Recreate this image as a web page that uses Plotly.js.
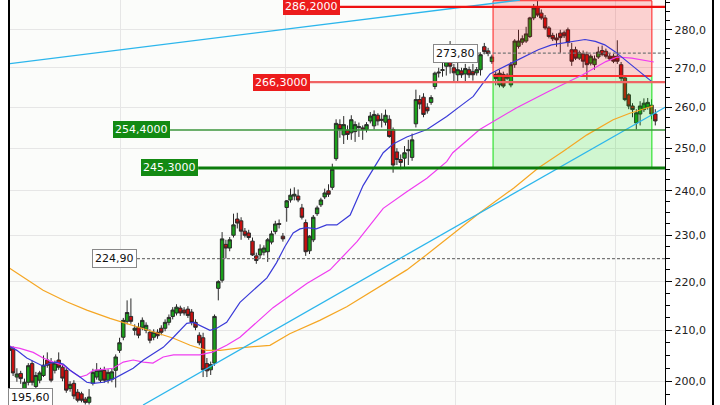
<!DOCTYPE html>
<html><head><meta charset="utf-8">
<script src="https://cdn.plot.ly/plotly-3.0.1.min.js"></script>
<style>html,body{margin:0;padding:0;background:#fff;}#chart{width:720px;height:405px;}</style>
</head><body><div id="chart"></div>
<script>
// ---- candle data (daily) ----
const opens = [206.8,206.3,200.8,201.5,198.0,199.8,203.4,199.0,200.2,201.1,204.1,203.7,202.1,204.1,202.7,202.1,198.6,199.6,197.9,197.6,196.6,196.0,199.6,200.8,200.2,202.1,200.2,200.4,202.1,206.0,208.6,211.8,212.8,210.0,210.6,210.6,210.0,209.6,208.6,209.6,210.4,210.4,211.6,212.8,213.5,214.5,214.1,214.3,213.7,211.6,209.0,208.5,203.4,202.2,203.5,218.6,220.3,228.0,227.2,230.0,233.6,233.2,230.9,230.5,228.7,225.5,225.7,226.3,226.4,228.5,230.8,232.6,229.8,236.2,237.9,238.8,238.8,236.1,232.8,226.6,229.0,234.8,236.8,238.6,240.0,240.8,247.5,255.7,253.2,254.3,253.7,254.0,255.0,254.9,254.5,256.6,255.4,258.0,257.0,256.3,257.0,254.5,249.1,247.3,247.6,249.4,247.8,255.9,261.9,262.5,260.0,261.2,265.2,268.9,269.3,270.4,271.8,270.0,268.2,269.2,268.4,269.5,269.0,268.7,269.5,275.5,274.4,271.6,268.3,265.6,268.3,268.1,265.6,270.8,275.6,276.7,277.0,278.2,283.2,286.3,284.5,283.2,280.5,278.5,277.8,279.1,279.2,280.0,274.7,274.7,272.5,273.6,273.4,271.2,270.8,272.8,274.5,274.3,273.0,273.0,273.0,270.8,267.4,263.1,260.3,256.1,258.3,259.4,260.0,260.5,258.3];
const highs = [207.8,206.8,202.5,202.0,200.5,203.5,204.0,201.8,202.0,205.0,205.6,204.5,204.0,205.6,203.2,202.6,200.0,200.2,198.5,198.0,197.0,198.5,202.4,203.5,202.6,202.8,202.3,202.4,205.2,208.5,212.5,216.1,216.5,211.2,211.5,212.6,211.6,210.2,210.2,210.2,211.0,212.2,213.2,214.7,215.3,215.0,214.7,214.9,214.3,212.2,209.6,209.5,204.5,203.8,213.2,220.3,230.7,229.0,229.6,234.8,235.0,234.0,231.6,231.2,229.5,226.2,228.0,227.8,229.4,231.0,233.2,233.5,230.5,237.9,240.5,240.8,240.3,237.0,233.5,230.0,234.5,236.6,238.4,240.5,241.5,246.3,257.0,257.0,257.8,255.5,258.0,256.5,256.2,255.5,256.3,258.8,259.2,258.5,258.5,259.4,258.0,255.0,250.0,248.5,250.5,252.0,253.5,264.4,263.0,263.5,261.0,263.0,269.0,270.0,271.6,273.0,277.0,271.0,271.5,270.0,271.0,270.3,271.0,270.2,274.0,276.5,275.2,273.4,269.0,269.5,269.0,268.6,271.5,277.5,280.0,278.5,280.8,283.5,287.0,287.8,285.5,284.0,281.0,279.2,279.0,280.0,279.8,280.6,276.5,275.5,274.5,274.5,274.2,273.5,273.2,275.5,275.8,275.0,273.8,273.6,277.2,271.5,267.8,263.5,261.0,259.5,261.5,262.2,262.3,262.0,259.5];
const lows = [205.5,201.0,199.9,199.5,197.3,199.2,199.2,198.5,199.6,200.8,202.6,199.8,201.5,202.2,200.0,197.8,198.0,196.6,196.0,196.0,195.6,195.6,199.2,200.3,199.8,199.7,199.6,199.8,198.8,205.5,208.0,211.2,211.3,209.0,208.4,210.0,209.4,207.4,208.0,208.3,209.0,209.8,211.0,212.2,213.0,212.9,213.0,212.5,211.0,210.0,207.0,200.8,200.8,201.2,203.0,216.1,219.8,224.9,226.5,229.5,231.5,229.0,229.5,229.0,225.5,223.8,224.9,225.6,224.2,228.0,230.2,231.5,228.6,233.0,237.3,237.8,237.4,233.5,225.5,225.9,228.5,234.3,236.3,238.1,238.6,240.2,247.0,252.5,251.0,252.0,252.0,251.5,252.7,252.0,253.8,256.0,254.5,255.5,255.0,255.5,252.5,244.2,246.0,245.0,245.5,246.0,247.0,255.0,259.5,257.5,258.4,260.6,264.5,267.5,267.7,268.0,268.5,266.3,266.5,267.4,266.3,267.4,266.7,268.0,268.0,273.5,273.0,271.0,265.5,265.0,264.8,266.8,265.0,270.0,275.0,276.0,276.5,277.8,282.6,283.5,282.7,280.0,277.7,277.0,275.5,273.9,277.8,275.5,270.5,272.0,272.0,270.0,266.9,270.6,269.5,272.3,273.0,272.4,271.8,271.2,271.0,266.5,261.5,259.5,257.5,254.5,255.5,258.8,259.4,257.0,255.5];
const closes = [206.0,201.6,201.4,200.5,199.8,203.0,199.8,201.1,201.6,203.1,203.1,200.2,203.5,202.7,200.6,198.3,199.4,197.2,196.4,196.4,196.0,197.0,201.7,202.1,202.1,200.2,201.7,201.8,204.7,207.5,212.0,213.6,211.8,210.4,209.0,212.0,211.0,208.0,209.6,208.9,209.6,211.6,212.6,214.1,214.7,213.5,213.5,213.0,211.6,210.6,207.5,202.2,202.0,203.2,212.8,220.0,229.2,227.2,229.0,232.3,232.7,230.9,230.0,229.5,225.7,224.5,227.0,227.2,229.0,230.3,232.5,232.4,229.2,237.7,239.0,239.2,237.9,234.0,226.4,229.8,234.0,236.1,237.9,239.5,239.2,245.0,256.0,254.5,255.7,253.3,256.9,255.7,255.2,254.5,255.7,257.8,258.2,256.6,256.8,258.0,252.8,246.0,247.3,246.6,248.9,249.6,252.0,261.9,260.8,258.2,259.1,262.4,268.6,268.7,269.5,271.9,270.4,268.7,269.5,268.2,269.8,268.2,268.2,269.5,273.4,274.2,273.7,272.8,267.2,268.6,265.3,267.3,270.8,277.0,277.0,277.6,278.9,283.2,285.9,284.0,283.2,280.5,278.2,277.6,277.3,277.9,278.4,276.6,271.7,272.5,273.9,271.7,270.8,273.0,272.3,274.1,273.5,273.0,272.3,271.7,271.7,267.3,261.9,260.3,259.4,258.6,260.3,261.0,261.2,258.3,256.6];
const days = opens.map((_, i) => i);

// ---- moving averages (index, value) ----
const maShortX = [0,2,4.6,7.2,8.9,10.7,12.5,14.2,16,18.6,20.4,22.1,24.8,27.3,30,32.6,35.3,37.9,40.5,43.2,46.7,48.5,50.2,52.8,54.6,57.2,60.7,65.1,67.8,70.3,72.5,74.7,76.5,78.3,80.8,83.5,86.2,89.7,93.1,95.8,98.4,101,104.6,109.9,115.1,118.6,122.1,124.7,126.5,128.6,132.2,135.7,139.2,142.7,146.2,149.6,151.5,154.2,156.7,159.4,162,164.7,167.2,169];
const maShortY = [206.8,206.0,204.5,203.5,202.9,203.5,203.7,203.3,202.1,200.8,199.8,199.6,199.8,200.4,201.5,202.5,204.1,205.4,206.6,208.6,211.4,211.6,211.0,210.0,210.4,211.6,215.7,218.9,220.8,224.0,227.5,230.5,231.4,231.7,231.4,232.3,232.3,234.5,241.2,245.1,248.9,251.0,252.7,254.5,257.7,260.2,262.7,266.1,268.4,269.5,271.2,272.9,274.7,276.0,276.6,277.1,277.4,276.9,276.0,274.2,272.1,269.9,267.8,266.5];
const maMidX = [0,2.8,6.3,8.9,11.6,14.2,16.8,18.6,20.4,22.1,24.8,27.3,30,32.6,35.3,37.8,40.5,43.2,46.7,50.1,53.7,57.2,60.7,69.4,78.3,84.4,91.5,98.4,104.6,109.9,115.1,116.7,123.8,133.4,142,150.9,157,160,163.8,169.6];
const maMidY = [206.8,206.4,205.6,204.5,203.7,203.1,201.7,200.8,201.2,202.1,202.3,202.5,203.7,204.1,203.7,203.5,204.7,205.1,205.1,205.1,205.7,207.0,208.6,214.6,219.6,222.5,228.6,236.0,239.8,242.9,246.8,248.9,254.5,259.8,264.0,268.2,271.6,272.8,272.5,271.5];
const maLongX = [0,8.9,15.1,20.4,26.5,32.6,37.8,43.2,47.6,51.9,55.5,60.7,68.6,73.8,81.7,88.8,95.8,104.6,109.9,116.8,123.8,132.7,139.2,145.7,152,158.9,163.3,169.4];
const maLongY = [222.9,218.2,215.8,214.1,212.4,211.0,209.7,208.4,207.0,206.0,206.0,206.5,207.0,209.3,212.0,214.8,218.2,222.5,225.8,230.3,235.0,240.6,245.3,249.2,253.2,256.9,258.5,260.3];

// ---- trend lines (index, value) ----
const trendUpperX = [-0.34, 134.4];
const trendUpperY = [271.0, 288.1];
const trendLowerX = [35.2, 172.6];
const trendLowerY = [195.5, 260.0];

// ---- levels ----
const levelValues = [286.2, 266.3, 254.4, 245.3];
const levelLabels = ['286,2000', '266,3000', '254,4000', '245,3000'];
const markValues = [273.8, 224.9];
const markLabels = ['273,80', '224,90'];
const lowMarkValue = 195.6;
const lowMarkLabel = '195,60';
const zoneX = [127.3, 169.1];
const zoneRed = [287.9, 267.9];
const zoneGreen = [267.9, 245.3];

// ---- axis ticks ----
const yTickVals = [200, 210, 220, 230, 240, 250, 260, 270, 280];
const yTickText = ['200,0', '210,0', '220,0', '230,0', '240,0', '250,0', '260,0', '270,0', '280,0'];
const yMinorVals = [197.5, 202.5, 205, 207.5, 212.5, 215, 217.5, 222.5, 225, 227.5, 232.5, 235, 237.5, 242.5, 245, 247.5, 252.5, 255, 257.5, 262.5, 265, 267.5, 272.5, 275, 277.5, 282.5, 285, 287.5];
const xGridVals = [29.2, 72.6, 117.3, 159.4];

const L = v => Math.log10(v);
const font = 'DejaVu Sans, Verdana, sans-serif';
const X0 = -0.34, X1 = 172.55;
const yRange = [L(195.5), L(288.1)];

// label right edges (in day-index units); the level lines start there
const levelStart = [87.0, 79.1, 42.3, 49.7];
const markStart = [123.3, 33.6];

const line = (x, y, color, width, dash) => ({type: 'scatter', mode: 'lines', x: x, y: y,
  line: {color: color, width: width, dash: dash || 'solid'}, hoverinfo: 'skip', showlegend: false});
const zone = (xr, yr, fill, edge) => ({type: 'scatter', mode: 'lines',
  x: [xr[0], xr[1], xr[1], xr[0], xr[0]], y: [yr[0], yr[0], yr[1], yr[1], yr[0]],
  fill: 'toself', fillcolor: fill, line: {color: edge, width: 1}, hoverinfo: 'skip', showlegend: false});

const traces = [
  zone(zoneX, zoneRed, 'rgba(255,0,0,0.17)', '#ff1a1a'),
  zone(zoneX, zoneGreen, 'rgba(0,220,0,0.17)', '#11dd11'),
  line(zoneX, [zoneRed[1], zoneRed[1]], '#ff3030', 2),
  {type: 'candlestick', x: days, open: opens, high: highs, low: lows, close: closes,
   increasing: {line: {color: '#2a2a2a', width: 1}, fillcolor: '#1aa01a'},
   decreasing: {line: {color: '#2a2a2a', width: 1}, fillcolor: '#c81010'},
   whiskerwidth: 0, hoverinfo: 'skip', showlegend: false},
  line(maLongX, maLongY, '#f5a623', 1.2),
  line(maMidX, maMidY, '#f03cf0', 1.2),
  line(maShortX, maShortY, '#3a3ad8', 1.2),
  line(trendUpperX, trendUpperY, '#2cb6ec', 1.3),
  line(trendLowerX, trendLowerY, '#2cb6ec', 1.3),
  line([levelStart[0], X1], [levelValues[0], levelValues[0]], '#ee1111', 2.2),
  line([levelStart[1], X1], [levelValues[1], levelValues[1]], '#f06464', 2.2),
  line([levelStart[2], X1], [levelValues[2], levelValues[2]], '#3c963c', 1.6),
  line([levelStart[3], X1], [levelValues[3], levelValues[3]], '#0c7c0c', 3),
  line([markStart[0], X1], [markValues[0], markValues[0]], '#777', 1.3, '3px,2px'),
  line([markStart[1], X1], [markValues[1], markValues[1]], '#777', 1.3, '3px,2px'),
  // invisible anchors for the two frame axes
  {type: 'scatter', mode: 'markers', x: [0], y: [200], yaxis: 'y2', marker: {opacity: 0}, hoverinfo: 'skip', showlegend: false},
  {type: 'scatter', mode: 'markers', x: [0], y: [200], yaxis: 'y3', marker: {opacity: 0}, hoverinfo: 'skip', showlegend: false}
];

const labelStyle = (text, xi, v, bg, col, border) => ({
  text: text, xref: 'x', yref: 'y', x: xi, y: L(v), xanchor: 'right', yanchor: 'middle',
  showarrow: false, bgcolor: bg, bordercolor: border || bg, borderwidth: border ? 1 : 0, borderpad: 2,
  font: {family: font, size: 11, color: col}
});

const annotations = [
  labelStyle(levelLabels[0], levelStart[0], levelValues[0], '#ec1c1c', '#fff'),
  labelStyle(levelLabels[1], levelStart[1], levelValues[1], '#ec1c1c', '#fff'),
  labelStyle(levelLabels[2], levelStart[2], levelValues[2], '#138a13', '#fff'),
  labelStyle(levelLabels[3], levelStart[3], levelValues[3], '#138a13', '#fff'),
  labelStyle(markLabels[0], markStart[0], markValues[0], '#fff', '#111', '#888'),
  labelStyle(markLabels[1], markStart[1], markValues[1], '#fff', '#111', '#888'),
  Object.assign(labelStyle(lowMarkLabel, X0, lowMarkValue + 1.3, '#fff', '#111', '#888'), {xanchor: 'left'})
];

const frameAxis = (pos, side) => ({type: 'log', range: yRange, overlaying: 'y', anchor: 'free', position: pos, side: side,
  showline: true, linecolor: '#000', linewidth: 1.5, showticklabels: false, ticks: '', showgrid: false, zeroline: false, fixedrange: true});

const layout = {
  width: 720, height: 405,
  margin: {l: 8, r: 8, t: 0, b: 0, pad: 0},
  paper_bgcolor: '#ffffff', plot_bgcolor: '#fbfcfa',
  showlegend: false, boxgap: 0.1, boxgroupgap: 0,
  xaxis: {domain: [0, 657 / 704], range: [X0, X1], rangeslider: {visible: false}, showticklabels: false, ticks: '',
          tickmode: 'array', tickvals: xGridVals, showgrid: true, gridcolor: '#e6e6e6', gridwidth: 1,
          zeroline: false, showline: false, fixedrange: true},
  yaxis: {type: 'log', side: 'right', anchor: 'x', range: yRange, tickmode: 'array',
          tickvals: yTickVals, ticktext: yTickText, ticks: 'outside', ticklen: 6, tickwidth: 1, tickcolor: '#000',
          minor: {tickmode: 'array', tickvals: yMinorVals, ticks: 'outside', ticklen: 4, tickcolor: '#000', showgrid: false},
          showline: true, linecolor: '#000', linewidth: 1.2, showgrid: true, gridcolor: '#e6e6e6', gridwidth: 1,
          zeroline: false, automargin: false, fixedrange: true,
          tickfont: {family: font, size: 11, color: '#222'}},
  yaxis2: frameAxis(1, 'right'),
  yaxis3: frameAxis(0, 'left'),
  annotations: annotations
};

Plotly.newPlot('chart', traces, layout, {staticPlot: true, displayModeBar: false});
</script></body></html>
